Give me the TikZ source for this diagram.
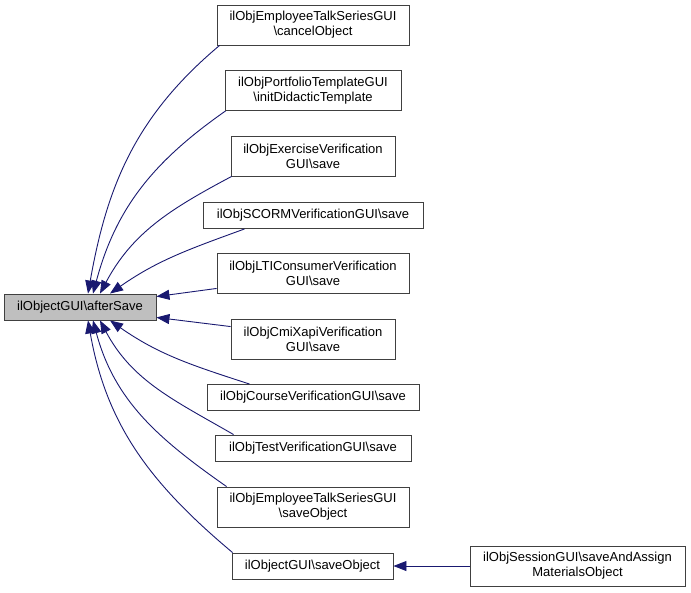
\documentclass[tikz,border=0pt]{standalone}
\usepackage{fontspec}
\setmainfont{Liberation Sans}
\usetikzlibrary{arrows.meta}
\definecolor{edgeblue}{HTML}{191970}
\definecolor{boxline}{HTML}{404040}
\definecolor{mainfill}{HTML}{BFBFBF}
\tikzset{
  fn/.style={draw=boxline, line width=0.9pt, fill=white, rectangle, inner sep=0pt,
    align=center, font=\fontsize{13}{15}\selectfont},
  mainfn/.style={fn, fill=mainfill},
  edge/.style={draw=edgeblue, line width=0.9pt, -{Triangle[length=13pt,width=10pt]}},
}
\begin{document}
\begin{tikzpicture}[x=1pt,y=-1pt]
\useasboundingbox (0,0) rectangle (691,592);
\node[mainfn, minimum width=152pt, minimum height=26pt] (main) at (80,307) {ilObjectGUI\textbackslash afterSave};
\node[fn, minimum width=192pt, minimum height=40pt] (b1) at (313,25) {ilObjEmployeeTalkSeriesGUI\\\textbackslash cancelObject};
\node[fn, minimum width=176pt, minimum height=40pt] (b2) at (313,90.5) {ilObjPortfolioTemplateGUI\\\textbackslash initDidacticTemplate};
\node[fn, minimum width=164pt, minimum height=40pt] (b3) at (313,156) {ilObjExerciseVerification\\GUI\textbackslash save};
\node[fn, minimum width=220pt, minimum height=26pt] (b4) at (313,215.5) {ilObjSCORMVerificationGUI\textbackslash save};
\node[fn, minimum width=192pt, minimum height=40pt] (b5) at (313,273) {ilObjLTIConsumerVerification\\GUI\textbackslash save};
\node[fn, minimum width=164pt, minimum height=40pt] (b6) at (313,339) {ilObjCmiXapiVerification\\GUI\textbackslash save};
\node[fn, minimum width=212pt, minimum height=26pt] (b7) at (313,397.5) {ilObjCourseVerificationGUI\textbackslash save};
\node[fn, minimum width=196pt, minimum height=26pt] (b8) at (313,448) {ilObjTestVerificationGUI\textbackslash save};
\node[fn, minimum width=192pt, minimum height=40pt] (b9) at (313,507) {ilObjEmployeeTalkSeriesGUI\\\textbackslash saveObject};
\node[fn, minimum width=161pt, minimum height=26pt] (b10) at (312.5,566) {ilObjectGUI\textbackslash saveObject};
\node[fn, minimum width=215pt, minimum height=40pt] (b11) at (577.5,566) {ilObjSessionGUI\textbackslash saveAndAssign\\MaterialsObject};

\draw[edge] ([xshift=3pt]b1.south west) to[out=220,in=80] ([xshift=8pt]main.north);
\draw[edge] ([xshift=1pt]b2.south west) to[out=215,in=75] ([xshift=13pt]main.north);
\draw[edge] ([xshift=1pt]b3.south west) to[out=208,in=62] ([xshift=20pt]main.north);
\draw[edge] ([xshift=42pt]b4.south west) to[out=200,in=35] ([xshift=30pt]main.north);
\draw[edge] ([yshift=5pt]b5.south west) -- ([yshift=-3pt]main.north east);
\draw[edge] ([yshift=-8pt]b6.north west) -- ([yshift=3pt]main.south east);
\draw[edge] ([xshift=43pt]b7.north west) to[out=162,in=-35] ([xshift=30pt]main.south);
\draw[edge] ([xshift=19pt]b8.north west) to[out=150,in=-62] ([xshift=20pt]main.south);
\draw[edge] ([xshift=10pt]b9.north west) to[out=145,in=-75] ([xshift=13pt]main.south);
\draw[edge] ([xshift=1pt]b10.north west) to[out=140,in=-80] ([xshift=8pt]main.south);
\draw[edge] (b11.west) -- (b10.east);
\end{tikzpicture}
\end{document}
